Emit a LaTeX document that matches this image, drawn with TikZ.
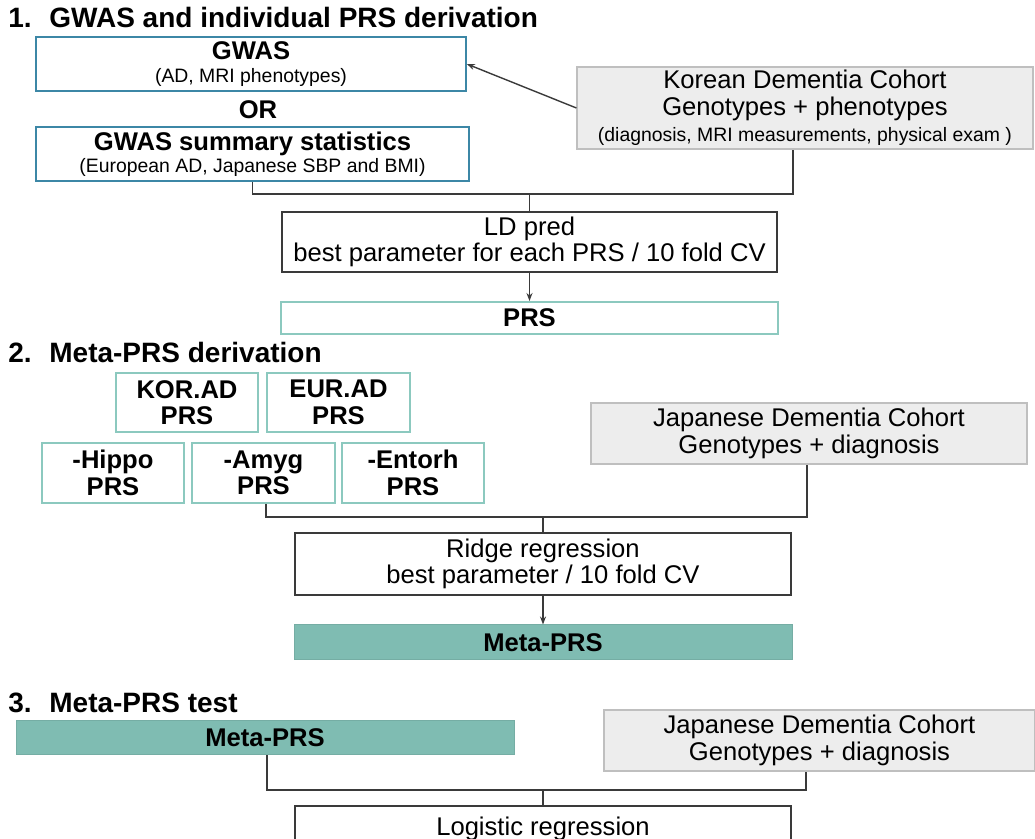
\documentclass[tikz,border=0pt]{standalone}
\usepackage{fontspec}
\setmainfont{Liberation Sans}
\usetikzlibrary{arrows.meta}

\definecolor{gwasblue}{HTML}{3C87A6}
\definecolor{prsteal}{HTML}{8CC9BF}
\definecolor{metateal}{HTML}{7FBCB2}
\definecolor{cohortgray}{HTML}{EDEDED}
\definecolor{cohortline}{HTML}{BFBFBF}
\definecolor{linkgray}{HTML}{3A3A3A}

\newcommand{\fmain}{\fontsize{12.8pt}{13.2pt}\selectfont}
\newcommand{\fsmall}{\fontsize{9.7pt}{10.5pt}\selectfont}
\newcommand{\fhead}{\fontsize{14pt}{16pt}\selectfont\bfseries}

\begin{document}
\begin{tikzpicture}[x=0.5pt,y=-0.5pt,
    box/.style={draw,align=center,inner sep=0pt,font=\fmain},
    gwas box/.style={box,draw=gwasblue,line width=0.8pt},
    prs box/.style={box,draw=prsteal,line width=1pt,font=\fmain\bfseries},
    meta box/.style={box,draw=metateal!92!black,fill=metateal,line width=0.5pt,font=\fmain\bfseries},
    cohort box/.style={box,draw=cohortline,fill=cohortgray,line width=0.6pt},
    plain box/.style={box,draw=linkgray,line width=0.7pt},
    link/.style={draw=linkgray,line width=0.7pt},
    arrow link/.style={link,-{Stealth[length=4pt,width=3pt]}},
    title/.style={anchor=base west,inner sep=0pt,font=\fhead},
  ]
  \clip (0,0) rectangle (1035,839);

  % 1. GWAS and individual PRS derivation
  \node[title] (title1) at (8,28) {\makebox[20.5pt][l]{1.}GWAS and individual PRS derivation};

  \node[gwas box,minimum width=215pt,minimum height=27pt] (gwas) at (251,64)
    {{\bfseries GWAS}\\[-2pt]{\fsmall (AD, MRI phenotypes)}};
  \node[inner sep=0pt,font=\fmain\bfseries] (or) at (258,110) {OR};
  \node[gwas box,minimum width=216.5pt,minimum height=27pt] (gwassum) at (252.5,154)
    {{\bfseries GWAS summary statistics}\\[-2pt]{\fsmall (European AD, Japanese SBP and BMI)}};

  \node[cohort box,minimum width=228pt,minimum height=41pt] (korean) at (805,108)
    {Korean Dementia Cohort\\Genotypes + phenotypes\\{\fsmall (diagnosis, MRI measurements, physical exam )}};

  \node[plain box,minimum width=247.5pt,minimum height=30pt] (ldpred) at (529.5,242)
    {LD pred\\best parameter for each PRS / 10 fold CV};
  \node[prs box,minimum width=248.5pt,minimum height=16pt] (prs) at (529.5,318) {PRS};

  \coordinate (j1) at (529.5,194);
  \draw[arrow link] (korean.west) -- (gwas.east);
  \draw[link] (gwassum.south) |- (j1) -| ([xshift=-6pt]korean.south);
  \draw[link] (j1) -- (ldpred.north);
  \draw[arrow link] (ldpred.south) -- (prs.north);

  % 2. Meta-PRS derivation
  \node[title] (title2) at (8,363) {\makebox[20.5pt][l]{2.}Meta-PRS derivation};

  \node[prs box,minimum width=71pt,minimum height=29.5pt] (korad) at (187,402.5) {KOR.AD\\PRS};
  \node[prs box,minimum width=71.5pt,minimum height=29.5pt] (eurad) at (338.5,402.5) {EUR.AD\\PRS};
  \node[prs box,minimum width=71pt,minimum height=30pt] (hippo) at (113,473) {-Hippo\\PRS};
  \node[prs box,minimum width=71.5pt,minimum height=30pt] (amyg) at (263.5,473) {-Amyg\\PRS};
  \node[prs box,minimum width=71pt,minimum height=30pt] (entorh) at (413,473) {-Entorh\\PRS};

  \node[cohort box,minimum width=218pt,minimum height=30.5pt] (japan1) at (809,433.5)
    {Japanese Dementia Cohort\\Genotypes + diagnosis};

  \node[plain box,minimum width=248pt,minimum height=31pt] (ridge) at (543,564)
    {Ridge regression\\best parameter / 10 fold CV};
  \node[meta box,minimum width=249pt,minimum height=17.5pt] (meta1) at (543,642.5) {Meta-PRS};

  \coordinate (j2) at (543,517);
  \draw[link] ([xshift=1.2pt]amyg.south) |- (j2) -| ([xshift=-1pt]japan1.south);
  \draw[link] (j2) -- (ridge.north);
  \draw[arrow link] (ridge.south) -- (meta1.north);

  % 3. Meta-PRS test
  \node[title] (title3) at (8,713) {\makebox[20.5pt][l]{3.}Meta-PRS test};

  \node[meta box,minimum width=249pt,minimum height=17pt] (meta2) at (265,738) {Meta-PRS};
  \node[cohort box,minimum width=215.5pt,minimum height=30.5pt] (japan2) at (819.5,740.5)
    {Japanese Dementia Cohort\\Genotypes + diagnosis};

  \node[plain box,minimum width=248pt,minimum height=23pt] (logit) at (543,829)
    {Logistic regression};

  \coordinate (j3) at (543,790);
  \draw[link] ([xshift=1pt]meta2.south) |- (j3) -| ([xshift=-6.75pt]japan2.south);
  \draw[link] (j3) -- (logit.north);
\end{tikzpicture}
\end{document}
